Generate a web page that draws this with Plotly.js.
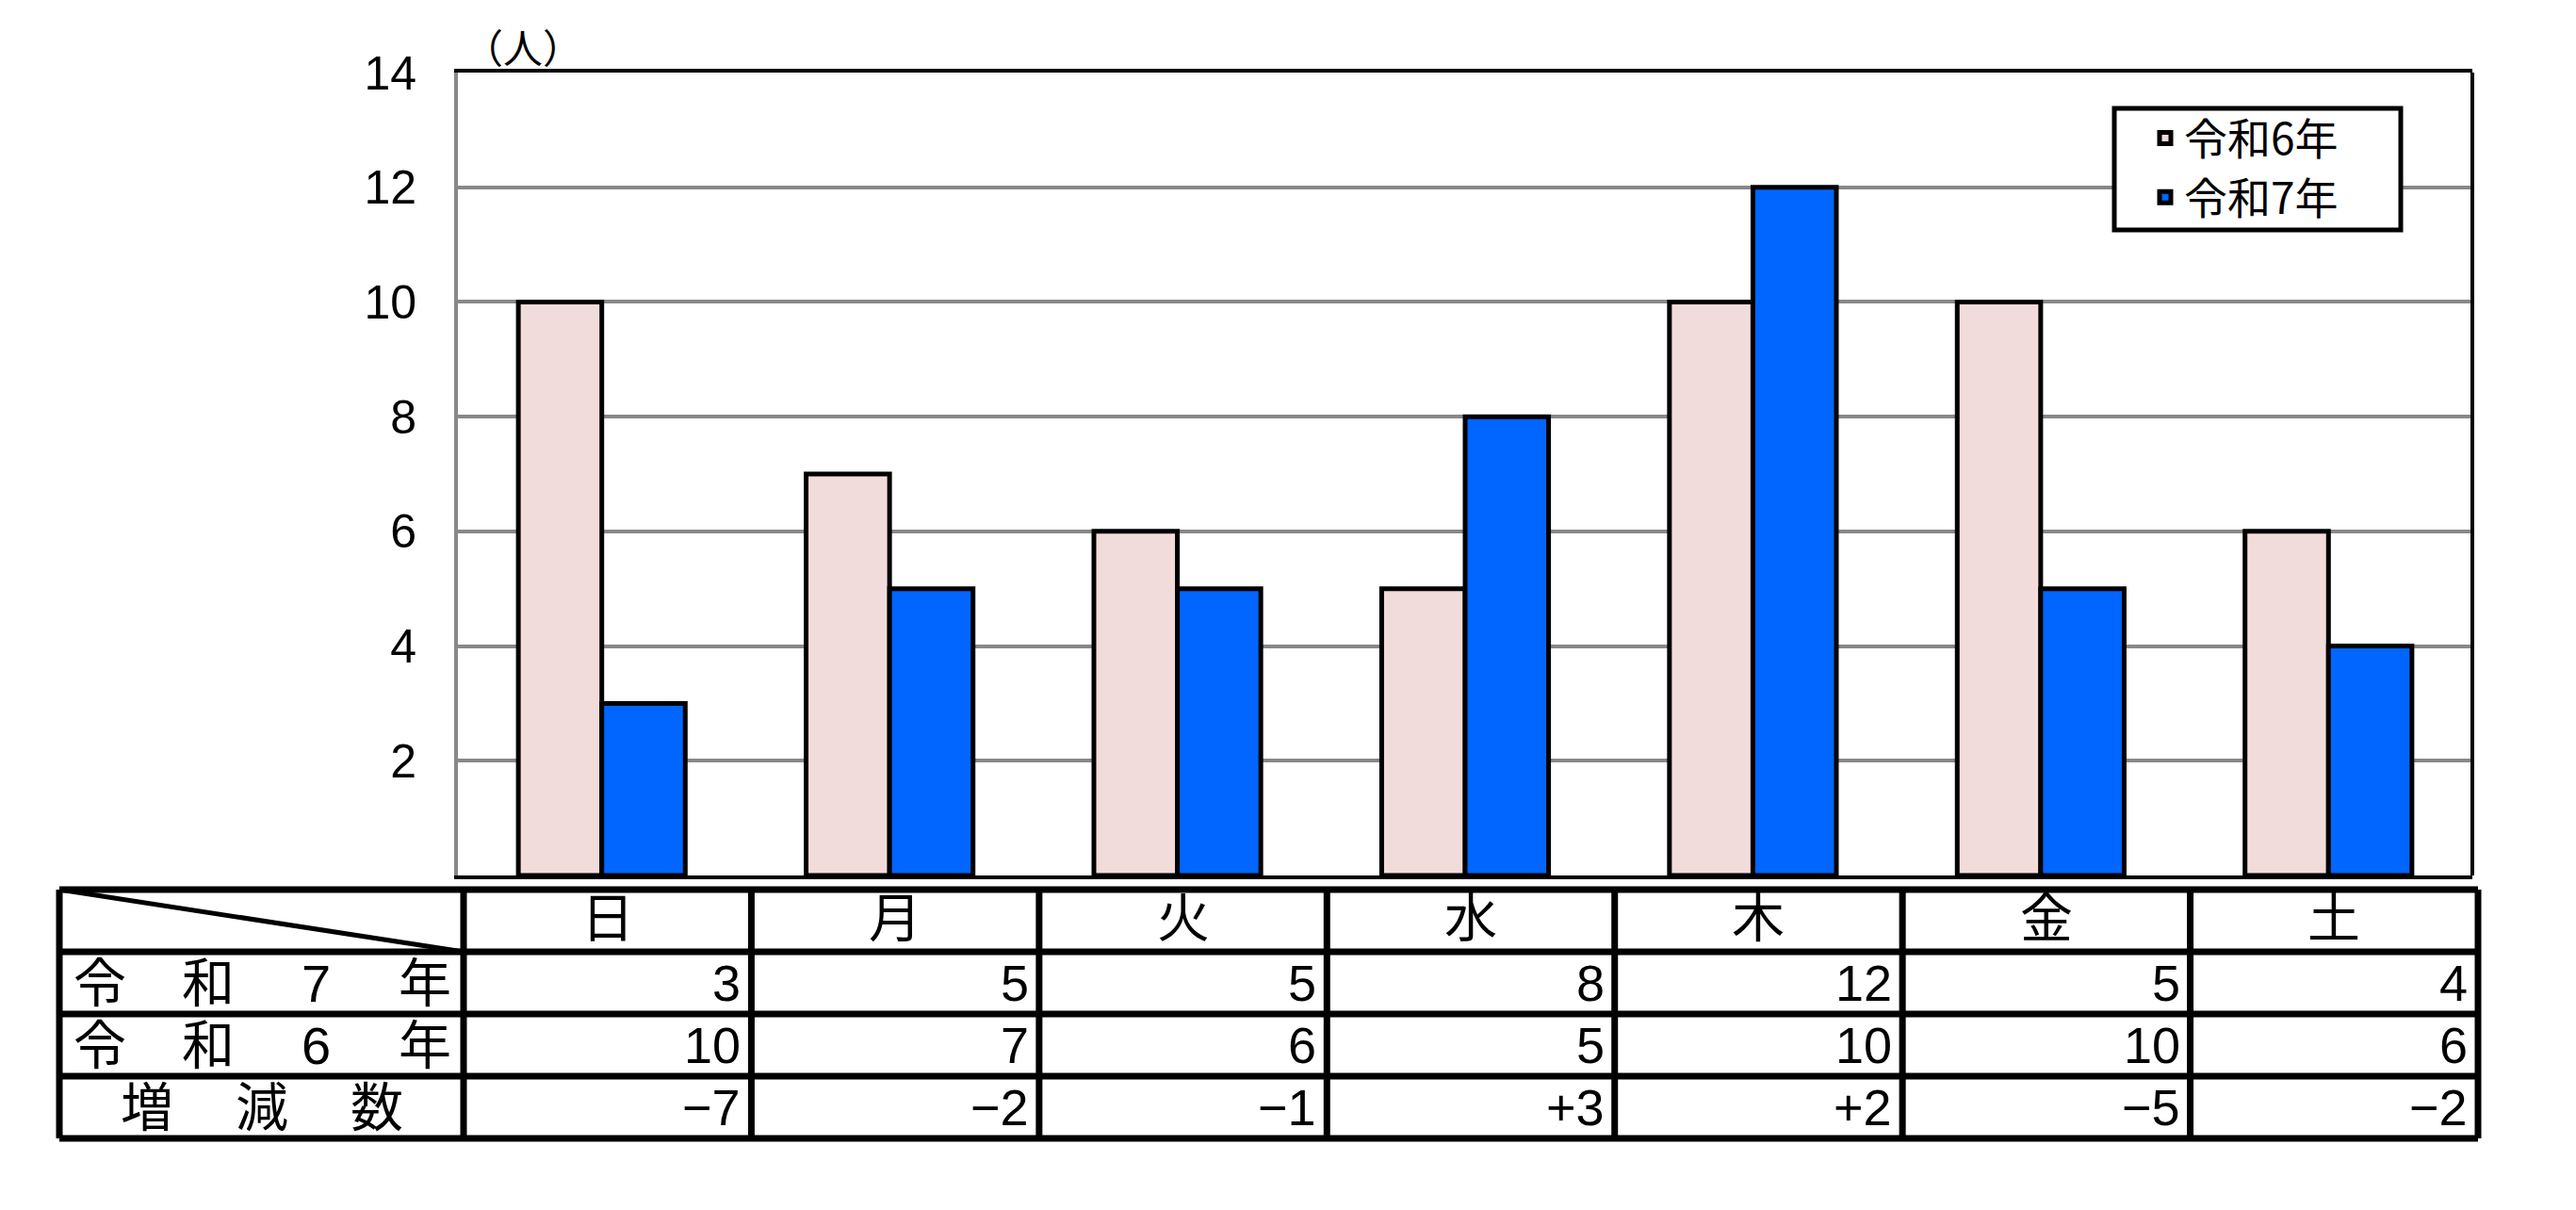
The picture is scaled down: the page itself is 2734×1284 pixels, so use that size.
<!DOCTYPE html>
<html>
<head>
<meta charset="utf-8">
<script src="https://cdn.plot.ly/plotly-3.0.1.min.js"></script>
<style>html,body{margin:0;padding:0;background:#fff;}#chart{width:2734px;height:1284px;}</style>
</head>
<body>
<div id="chart"></div>
<script>
// ---- data ----
const days = ['日', '月', '火', '水', '木', '金', '土'];
const r6Values = [10, 7, 6, 5, 10, 10, 6];
const r7Values = [3, 5, 5, 8, 12, 5, 4];
const seriesNames = ['令和6年', '令和7年'];
const rowLabels = ['令和7年', '令和6年', '増減数'];
const yTickVals = [2, 4, 6, 8, 10, 12, 14];
const unitLabel = '（人）';

// ---- layout geometry (pixels) ----
const W = 2734, H = 1284;
const M = {l: 486, r: 110, t: 77, b: 355};
const PW = W - M.l - M.r, PH = H - M.t - M.b;
const xp = px => (px - M.l) / PW;
const yp = py => (H - M.b - py) / PH;

const JP = '"Noto Sans CJK JP", "Noto Sans", sans-serif';
const TBL = '"Liberation Sans", "Noto Sans CJK JP", sans-serif';
const pink = '#F2DCDB', blue = '#0066FF';

const traces = [
  {type: 'bar', name: seriesNames[0], x: days, y: r6Values,
   marker: {color: pink, line: {color: '#000', width: 5}}, hoverinfo: 'x+y'},
  {type: 'bar', name: seriesNames[1], x: days, y: r7Values,
   marker: {color: blue, line: {color: '#000', width: 5}}, hoverinfo: 'x+y'}
];

// ---- table ----
const shift = 6 / PW;
const tableLeft = xp(63);
const rowsY = [944, 1010, 1076, 1142, 1208].map(yp);
const nCat = days.length;
const colX = k => k / nCat + shift;
const shapes = [];
const LW = 7;
rowsY.forEach(y => shapes.push({type: 'line', xref: 'paper', yref: 'paper',
  x0: tableLeft, x1: colX(nCat), y0: y, y1: y, line: {color: '#000', width: LW}}));
[tableLeft].concat(days.map((d, k) => colX(k)), [colX(nCat)]).forEach(x =>
  shapes.push({type: 'line', xref: 'paper', yref: 'paper', x0: x, x1: x,
    y0: rowsY[0], y1: rowsY[rowsY.length - 1], line: {color: '#000', width: LW}}));
shapes.push({type: 'line', xref: 'paper', yref: 'paper', x0: tableLeft, y0: rowsY[0],
  x1: colX(0), y1: rowsY[1], line: {color: '#000', width: 5}});
// right border of plot (black) – left one is the gray y axis line
shapes.push({type: 'line', xref: 'paper', yref: 'paper', x0: 1, x1: 1, y0: 0, y1: 1,
  line: {color: '#000', width: 4}});
// legend frame
shapes.push({type: 'rect', xref: 'paper', yref: 'paper', x0: xp(2244), x1: xp(2548),
  y0: yp(244), y1: yp(115), fillcolor: '#fff', line: {color: '#000', width: 5}, layer: 'above'});

const fmtDiff = v => v > 0 ? '+' + v : (v < 0 ? '\u2212' + Math.abs(v) : '0');
const diffs = r7Values.map((v, i) => v - r6Values[i]);
const rowMid = r => (rowsY[r] + rowsY[r + 1]) / 2;
const annotations = [];
const ann = o => Object.assign({xref: 'paper', yref: 'paper', showarrow: false,
  xanchor: 'center', yanchor: 'middle', borderpad: 0}, o);
annotations.push(ann({x: xp(555), y: yp(48), text: unitLabel,
  font: {family: JP, size: 42, color: '#000'}}));
days.forEach((d, i) => {
  annotations.push(ann({x: (colX(i) + colX(i + 1)) / 2, y: rowMid(0), yshift: 2,
    text: d, font: {family: TBL, size: 56, color: '#000'}}));
  const vals = [r7Values[i], r6Values[i], fmtDiff(diffs[i])];
  vals.forEach((v, r) => annotations.push(ann({x: colX(i + 1), xshift: -10,
    y: rowMid(r + 1), xanchor: 'right', text: String(v),
    font: {family: TBL, size: 54, color: '#000'}})));
});
// row labels: characters spread evenly across the first column
const labelCenterPx = (63 + 493) / 2;
rowLabels.forEach((lab, r) => {
  const chars = lab.split('');
  const pitch = chars.length >= 4 ? 115 : 122;
  chars.forEach((ch, k) => annotations.push(ann({
    x: xp(labelCenterPx + (k - (chars.length - 1) / 2) * pitch), y: rowMid(r + 1),
    text: ch, font: {family: TBL, size: 56, color: '#000'}})));
});

const layout = {
  width: W, height: H,
  margin: M,
  paper_bgcolor: '#fff', plot_bgcolor: '#fff',
  barmode: 'group', bargap: 0.42, bargroupgap: 0,
  showlegend: true,
  legend: {x: xp(2278), y: yp(110), xanchor: 'left', yanchor: 'top',
    bgcolor: 'rgba(0,0,0,0)', borderwidth: 0,
    font: {family: JP, size: 46, color: '#000'}, traceorder: 'normal'},
  xaxis: {type: 'category', range: [-0.5, 6.5], showticklabels: false, ticks: '',
    showline: true, mirror: true, linecolor: '#000', linewidth: 4, showgrid: false, zeroline: false,
    fixedrange: true},
  yaxis: {range: [0, 14], tickvals: yTickVals, ticktext: yTickVals.map(String),
    showline: true, linecolor: '#888', linewidth: 4, showgrid: true, gridcolor: '#888', gridwidth: 4,
    zeroline: false, ticks: '', ticklabelstandoff: 30,
    tickfont: {family: '"Liberation Sans", Arial, sans-serif', size: 50, color: '#000'},
    fixedrange: true},
  shapes: shapes,
  annotations: annotations
};

Plotly.newPlot('chart', traces, layout, {displayModeBar: false, staticPlot: true});
</script>
</body>
</html>
